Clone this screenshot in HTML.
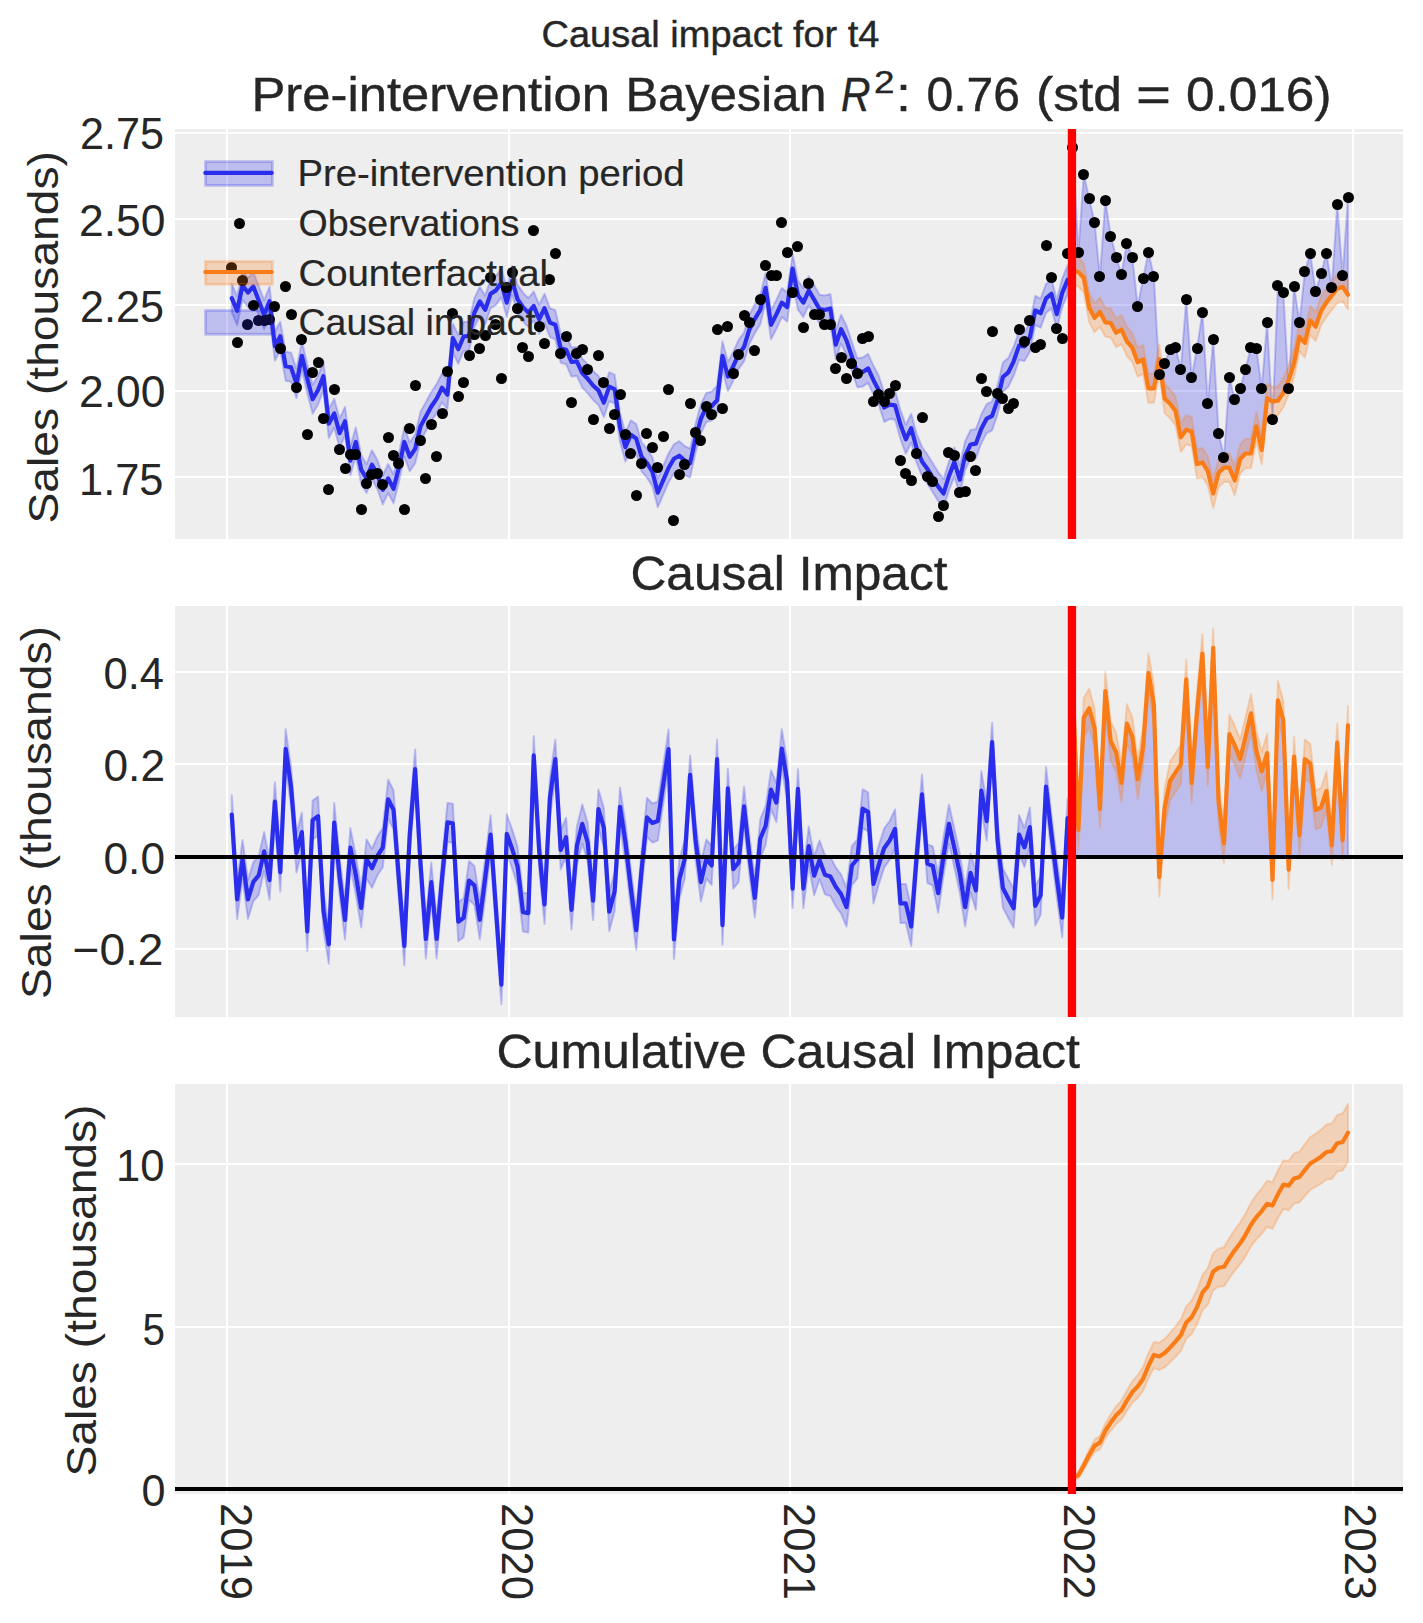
<!DOCTYPE html>
<html><head><meta charset="utf-8"><title>Causal impact for t4</title><style>html,body{margin:0;padding:0;background:#fff}svg{display:block;font-family:"Liberation Sans",sans-serif}</style></head><body>
<svg width="1423" height="1623" viewBox="0 0 1423 1623">
<defs>
<clipPath id="c0"><rect x="175.0" y="129.0" width="1228.0" height="410.0"/></clipPath>
<clipPath id="c1"><rect x="175.0" y="606.0" width="1228.0" height="411.0"/></clipPath>
<clipPath id="c2"><rect x="175.0" y="1084.0" width="1228.0" height="410.0"/></clipPath>
</defs>
<rect width="1423" height="1623" fill="#ffffff"/>
<rect x="175.0" y="129.0" width="1228.0" height="410.0" fill="#eeeeee"/>
<g clip-path="url(#c0)">
<line x1="227.00" y1="129.0" x2="227.00" y2="539.0" stroke="#ffffff" stroke-width="2.0"/>
<line x1="509.00" y1="129.0" x2="509.00" y2="539.0" stroke="#ffffff" stroke-width="2.0"/>
<line x1="790.00" y1="129.0" x2="790.00" y2="539.0" stroke="#ffffff" stroke-width="2.0"/>
<line x1="1072.00" y1="129.0" x2="1072.00" y2="539.0" stroke="#ffffff" stroke-width="2.0"/>
<line x1="1353.00" y1="129.0" x2="1353.00" y2="539.0" stroke="#ffffff" stroke-width="2.0"/>
<line x1="175.0" y1="133.00" x2="1403.0" y2="133.00" stroke="#ffffff" stroke-width="2.0"/>
<line x1="175.0" y1="219.00" x2="1403.0" y2="219.00" stroke="#ffffff" stroke-width="2.0"/>
<line x1="175.0" y1="305.00" x2="1403.0" y2="305.00" stroke="#ffffff" stroke-width="2.0"/>
<line x1="175.0" y1="391.00" x2="1403.0" y2="391.00" stroke="#ffffff" stroke-width="2.0"/>
<line x1="175.0" y1="477.00" x2="1403.0" y2="477.00" stroke="#ffffff" stroke-width="2.0"/>
<polygon points="231.76,283.70 237.15,296.20 242.54,270.90 247.94,278.00 253.33,271.90 258.72,286.00 264.12,300.20 269.51,286.70 274.90,331.60 280.29,321.80 285.69,351.80 291.08,352.80 296.47,369.10 301.86,341.30 307.25,364.00 312.65,384.70 318.04,375.50 323.43,361.60 328.82,409.10 334.22,398.90 339.61,418.60 345.00,406.80 350.39,446.20 355.79,427.50 361.18,455.10 366.57,464.00 371.97,450.20 377.36,460.00 382.75,475.30 388.14,464.00 393.53,474.30 398.93,453.10 404.32,427.50 409.71,442.30 415.11,434.40 420.50,411.70 425.89,401.90 431.28,392.00 436.67,384.10 442.07,373.30 447.46,380.20 452.85,323.60 458.25,334.70 463.64,322.00 469.03,321.40 474.42,298.10 479.81,287.00 485.21,295.40 490.60,279.30 495.99,275.90 501.38,268.20 506.78,288.10 512.17,266.00 517.56,284.80 522.95,292.60 528.35,298.10 533.74,291.50 539.13,304.80 544.52,293.70 549.92,308.10 555.31,310.30 560.70,333.80 566.10,335.20 571.49,347.50 576.88,346.90 582.27,358.60 587.66,364.20 593.06,371.00 598.45,375.90 603.84,388.20 609.24,372.20 614.63,374.70 620.02,412.90 625.41,432.60 630.81,420.30 636.20,424.00 641.59,442.40 646.98,448.60 652.38,457.20 657.77,478.20 663.16,465.90 668.55,453.50 673.94,444.30 679.34,441.20 684.73,446.10 690.12,448.60 695.51,424.00 700.91,404.20 706.30,393.00 711.69,391.60 717.09,385.70 722.48,341.30 727.87,362.00 733.26,351.70 738.65,339.80 744.05,332.40 749.44,314.70 754.83,304.30 760.23,295.50 765.62,273.30 771.01,310.30 776.40,299.90 781.79,288.10 787.19,292.50 792.58,254.10 797.97,280.70 803.37,288.10 808.76,276.20 814.15,285.10 819.54,294.70 824.93,295.50 830.33,294.00 835.72,330.20 841.11,314.70 846.50,325.80 851.90,342.00 857.29,358.30 862.68,357.60 868.08,353.90 873.47,365.70 878.86,376.00 884.25,393.00 889.64,390.10 895.04,390.80 900.43,410.00 905.82,424.80 911.22,413.70 916.61,433.70 922.00,447.00 927.39,454.40 932.78,463.30 938.18,472.10 943.57,479.00 948.96,461.50 954.36,447.60 959.75,465.20 965.14,441.10 970.53,430.00 975.92,429.10 981.32,414.30 986.71,404.10 992.10,401.40 997.50,385.60 1002.89,362.50 1008.28,357.90 1013.67,346.80 1019.07,331.10 1024.46,332.00 1029.85,322.80 1035.24,296.00 1040.63,298.70 1046.03,283.90 1051.42,279.30 1056.81,299.60 1062.20,278.40 1067.60,265.40 1067.60,294.40 1062.20,307.40 1056.81,328.60 1051.42,308.30 1046.03,312.90 1040.63,327.70 1035.24,325.00 1029.85,351.80 1024.46,361.00 1019.07,360.10 1013.67,375.80 1008.28,386.90 1002.89,391.50 997.50,414.60 992.10,430.40 986.71,433.10 981.32,443.30 975.92,458.10 970.53,459.00 965.14,470.10 959.75,494.20 954.36,476.60 948.96,490.50 943.57,508.00 938.18,501.10 932.78,492.30 927.39,483.40 922.00,476.00 916.61,462.70 911.22,442.70 905.82,453.80 900.43,439.00 895.04,419.80 889.64,419.10 884.25,422.00 878.86,405.00 873.47,394.70 868.08,382.90 862.68,386.60 857.29,387.30 851.90,371.00 846.50,354.80 841.11,343.70 835.72,359.20 830.33,323.00 824.93,324.50 819.54,323.70 814.15,314.10 808.76,305.20 803.37,317.10 797.97,309.70 792.58,283.10 787.19,321.50 781.79,317.10 776.40,328.90 771.01,339.30 765.62,302.30 760.23,324.50 754.83,333.30 749.44,343.70 744.05,361.40 738.65,368.80 733.26,380.70 727.87,391.00 722.48,370.30 717.09,414.70 711.69,420.60 706.30,422.00 700.91,433.20 695.51,453.00 690.12,477.60 684.73,475.10 679.34,470.20 673.94,473.30 668.55,482.50 663.16,494.90 657.77,507.20 652.38,486.20 646.98,477.60 641.59,471.40 636.20,453.00 630.81,449.30 625.41,461.60 620.02,441.90 614.63,403.70 609.24,401.20 603.84,417.20 598.45,404.90 593.06,400.00 587.66,393.20 582.27,387.60 576.88,375.90 571.49,376.50 566.10,364.20 560.70,362.80 555.31,339.30 549.92,337.10 544.52,322.70 539.13,333.80 533.74,320.50 528.35,327.10 522.95,321.60 517.56,313.80 512.17,295.00 506.78,317.10 501.38,297.20 495.99,304.90 490.60,308.30 485.21,324.40 479.81,316.00 474.42,327.10 469.03,350.40 463.64,351.00 458.25,363.70 452.85,352.60 447.46,409.20 442.07,402.30 436.67,413.10 431.28,421.00 425.89,430.90 420.50,440.70 415.11,463.40 409.71,471.30 404.32,456.50 398.93,482.10 393.53,503.30 388.14,493.00 382.75,504.30 377.36,489.00 371.97,479.20 366.57,493.00 361.18,484.10 355.79,456.50 350.39,475.20 345.00,435.80 339.61,447.60 334.22,427.90 328.82,438.10 323.43,390.60 318.04,404.50 312.65,413.70 307.25,393.00 301.86,370.30 296.47,398.10 291.08,381.80 285.69,380.80 280.29,350.80 274.90,360.60 269.51,315.70 264.12,329.20 258.72,315.00 253.33,300.90 247.94,307.00 242.54,299.90 237.15,325.20 231.76,312.70" fill="#2a2eec" fill-opacity="0.25" stroke="#2a2eec" stroke-opacity="0.25" stroke-width="2" stroke-linejoin="round" />
<polyline points="231.76,298.20 237.15,310.70 242.54,285.40 247.94,292.50 253.33,286.40 258.72,300.50 264.12,314.70 269.51,301.20 274.90,346.10 280.29,336.30 285.69,366.30 291.08,367.30 296.47,383.60 301.86,355.80 307.25,378.50 312.65,399.20 318.04,390.00 323.43,376.10 328.82,423.60 334.22,413.40 339.61,433.10 345.00,421.30 350.39,460.70 355.79,442.00 361.18,469.60 366.57,478.50 371.97,464.70 377.36,474.50 382.75,489.80 388.14,478.50 393.53,488.80 398.93,467.60 404.32,442.00 409.71,456.80 415.11,448.90 420.50,426.20 425.89,416.40 431.28,406.50 436.67,398.60 442.07,387.80 447.46,394.70 452.85,338.10 458.25,349.20 463.64,336.50 469.03,335.90 474.42,312.60 479.81,301.50 485.21,309.90 490.60,293.80 495.99,290.40 501.38,282.70 506.78,302.60 512.17,280.50 517.56,299.30 522.95,307.10 528.35,312.60 533.74,306.00 539.13,319.30 544.52,308.20 549.92,322.60 555.31,324.80 560.70,348.30 566.10,349.70 571.49,362.00 576.88,361.40 582.27,373.10 587.66,378.70 593.06,385.50 598.45,390.40 603.84,402.70 609.24,386.70 614.63,389.20 620.02,427.40 625.41,447.10 630.81,434.80 636.20,438.50 641.59,456.90 646.98,463.10 652.38,471.70 657.77,492.70 663.16,480.40 668.55,468.00 673.94,458.80 679.34,455.70 684.73,460.60 690.12,463.10 695.51,438.50 700.91,418.70 706.30,407.50 711.69,406.10 717.09,400.20 722.48,355.80 727.87,376.50 733.26,366.20 738.65,354.30 744.05,346.90 749.44,329.20 754.83,318.80 760.23,310.00 765.62,287.80 771.01,324.80 776.40,314.40 781.79,302.60 787.19,307.00 792.58,268.60 797.97,295.20 803.37,302.60 808.76,290.70 814.15,299.60 819.54,309.20 824.93,310.00 830.33,308.50 835.72,344.70 841.11,329.20 846.50,340.30 851.90,356.50 857.29,372.80 862.68,372.10 868.08,368.40 873.47,380.20 878.86,390.50 884.25,407.50 889.64,404.60 895.04,405.30 900.43,424.50 905.82,439.30 911.22,428.20 916.61,448.20 922.00,461.50 927.39,468.90 932.78,477.80 938.18,486.60 943.57,493.50 948.96,476.00 954.36,462.10 959.75,479.70 965.14,455.60 970.53,444.50 975.92,443.60 981.32,428.80 986.71,418.60 992.10,415.90 997.50,400.10 1002.89,377.00 1008.28,372.40 1013.67,361.30 1019.07,345.60 1024.46,346.50 1029.85,337.30 1035.24,310.50 1040.63,313.20 1046.03,298.40 1051.42,293.80 1056.81,314.10 1062.20,292.90 1067.60,279.90" fill="none" stroke="#2a2eec" stroke-width="4.2" stroke-linejoin="round" stroke-linecap="round"/>
<polygon points="1072.99,147.50 1078.38,252.50 1083.78,174.40 1089.17,198.50 1094.56,222.50 1099.95,276.40 1105.35,200.30 1110.74,236.20 1116.13,257.20 1121.52,274.20 1126.91,243.20 1132.31,257.20 1137.70,306.30 1143.09,278.30 1148.49,252.40 1153.88,276.30 1159.27,374.50 1164.66,363.40 1170.05,349.20 1175.45,347.20 1180.84,369.00 1186.23,299.30 1191.62,377.40 1197.02,348.30 1202.41,312.30 1207.80,403.30 1213.20,339.50 1218.59,433.10 1223.98,457.20 1229.37,377.40 1234.76,399.50 1240.16,388.30 1245.55,369.30 1250.94,347.00 1256.34,348.20 1261.73,388.30 1267.12,322.20 1272.51,419.30 1277.90,285.20 1283.30,292.40 1288.69,388.30 1294.08,286.40 1299.47,322.20 1304.87,271.40 1310.26,253.30 1315.65,291.60 1321.05,273.40 1326.44,253.30 1331.83,287.20 1337.22,204.50 1342.62,275.20 1348.01,197.20 1348.01,294.70 1342.62,286.90 1337.22,288.60 1331.83,295.50 1326.44,302.40 1321.05,311.00 1315.65,326.60 1310.26,320.50 1304.87,342.90 1299.47,336.90 1294.08,362.80 1288.69,380.00 1283.30,392.90 1277.90,400.70 1272.51,401.60 1267.12,398.10 1261.73,450.00 1256.34,426.40 1250.94,453.50 1245.55,453.50 1240.16,459.00 1234.76,480.50 1229.37,467.60 1223.98,467.60 1218.59,472.80 1213.20,493.40 1207.80,471.00 1202.41,462.40 1197.02,464.10 1191.62,431.40 1186.23,429.70 1180.84,437.40 1175.45,410.70 1170.05,403.80 1164.66,398.60 1159.27,359.00 1153.88,388.30 1148.49,388.30 1143.09,359.50 1137.70,362.20 1132.31,347.50 1126.91,341.50 1121.52,329.70 1116.13,332.70 1110.74,323.00 1105.35,322.30 1099.95,312.00 1094.56,317.90 1089.17,307.50 1083.78,277.90 1078.38,272.00 1072.99,270.39" fill="#2a2eec" fill-opacity="0.25" stroke="#2a2eec" stroke-opacity="0.25" stroke-width="2" stroke-linejoin="round" />
<polygon points="1072.99,255.89 1078.38,257.50 1083.78,263.40 1089.17,293.00 1094.56,303.40 1099.95,297.50 1105.35,307.80 1110.74,308.50 1116.13,318.20 1121.52,315.20 1126.91,327.00 1132.31,333.00 1137.70,347.70 1143.09,345.00 1148.49,373.80 1153.88,373.80 1159.27,344.50 1164.66,384.10 1170.05,389.30 1175.45,396.20 1180.84,422.90 1186.23,415.20 1191.62,416.90 1197.02,449.60 1202.41,447.90 1207.80,456.50 1213.20,478.90 1218.59,458.30 1223.98,453.10 1229.37,453.10 1234.76,466.00 1240.16,444.50 1245.55,439.00 1250.94,439.00 1256.34,411.90 1261.73,435.50 1267.12,383.60 1272.51,387.10 1277.90,386.20 1283.30,378.40 1288.69,365.50 1294.08,348.30 1299.47,322.40 1304.87,328.40 1310.26,306.00 1315.65,312.10 1321.05,296.50 1326.44,287.90 1331.83,281.00 1337.22,274.10 1342.62,272.40 1348.01,280.20 1348.01,309.20 1342.62,301.40 1337.22,303.10 1331.83,310.00 1326.44,316.90 1321.05,325.50 1315.65,341.10 1310.26,335.00 1304.87,357.40 1299.47,351.40 1294.08,377.30 1288.69,394.50 1283.30,407.40 1277.90,415.20 1272.51,416.10 1267.12,412.60 1261.73,464.50 1256.34,440.90 1250.94,468.00 1245.55,468.00 1240.16,473.50 1234.76,495.00 1229.37,482.10 1223.98,482.10 1218.59,487.30 1213.20,507.90 1207.80,485.50 1202.41,476.90 1197.02,478.60 1191.62,445.90 1186.23,444.20 1180.84,451.90 1175.45,425.20 1170.05,418.30 1164.66,413.10 1159.27,373.50 1153.88,402.80 1148.49,402.80 1143.09,374.00 1137.70,376.70 1132.31,362.00 1126.91,356.00 1121.52,344.20 1116.13,347.20 1110.74,337.50 1105.35,336.80 1099.95,326.50 1094.56,332.40 1089.17,322.00 1083.78,292.40 1078.38,286.50 1072.99,284.89" fill="#fa7c17" fill-opacity="0.25" stroke="#fa7c17" stroke-opacity="0.25" stroke-width="2" stroke-linejoin="round" />
<polyline points="1072.99,270.39 1078.38,272.00 1083.78,277.90 1089.17,307.50 1094.56,317.90 1099.95,312.00 1105.35,322.30 1110.74,323.00 1116.13,332.70 1121.52,329.70 1126.91,341.50 1132.31,347.50 1137.70,362.20 1143.09,359.50 1148.49,388.30 1153.88,388.30 1159.27,359.00 1164.66,398.60 1170.05,403.80 1175.45,410.70 1180.84,437.40 1186.23,429.70 1191.62,431.40 1197.02,464.10 1202.41,462.40 1207.80,471.00 1213.20,493.40 1218.59,472.80 1223.98,467.60 1229.37,467.60 1234.76,480.50 1240.16,459.00 1245.55,453.50 1250.94,453.50 1256.34,426.40 1261.73,450.00 1267.12,398.10 1272.51,401.60 1277.90,400.70 1283.30,392.90 1288.69,380.00 1294.08,362.80 1299.47,336.90 1304.87,342.90 1310.26,320.50 1315.65,326.60 1321.05,311.00 1326.44,302.40 1331.83,295.50 1337.22,288.60 1342.62,286.90 1348.01,294.70" fill="none" stroke="#fa7c17" stroke-width="4.2" stroke-linejoin="round" stroke-linecap="round"/>
<g fill="#000000">
<circle cx="231.5" cy="267.5" r="5.5"/>
<circle cx="237.5" cy="342.5" r="5.5"/>
<circle cx="242.5" cy="280.5" r="5.5"/>
<circle cx="247.5" cy="324.5" r="5.5"/>
<circle cx="253.5" cy="305.5" r="5.5"/>
<circle cx="258.5" cy="320.5" r="5.5"/>
<circle cx="264.5" cy="320.5" r="5.5"/>
<circle cx="269.5" cy="319.5" r="5.5"/>
<circle cx="274.5" cy="306.5" r="5.5"/>
<circle cx="280.5" cy="348.5" r="5.5"/>
<circle cx="285.5" cy="286.5" r="5.5"/>
<circle cx="291.5" cy="314.5" r="5.5"/>
<circle cx="296.5" cy="387.5" r="5.5"/>
<circle cx="301.5" cy="339.5" r="5.5"/>
<circle cx="307.5" cy="434.5" r="5.5"/>
<circle cx="312.5" cy="372.5" r="5.5"/>
<circle cx="318.5" cy="362.5" r="5.5"/>
<circle cx="323.5" cy="418.5" r="5.5"/>
<circle cx="328.5" cy="489.5" r="5.5"/>
<circle cx="334.5" cy="389.5" r="5.5"/>
<circle cx="339.5" cy="449.5" r="5.5"/>
<circle cx="345.5" cy="468.5" r="5.5"/>
<circle cx="350.5" cy="454.5" r="5.5"/>
<circle cx="355.5" cy="454.5" r="5.5"/>
<circle cx="361.5" cy="509.5" r="5.5"/>
<circle cx="366.5" cy="483.5" r="5.5"/>
<circle cx="371.5" cy="474.5" r="5.5"/>
<circle cx="377.5" cy="473.5" r="5.5"/>
<circle cx="382.5" cy="484.5" r="5.5"/>
<circle cx="388.5" cy="437.5" r="5.5"/>
<circle cx="393.5" cy="455.5" r="5.5"/>
<circle cx="398.5" cy="463.5" r="5.5"/>
<circle cx="404.5" cy="509.5" r="5.5"/>
<circle cx="409.5" cy="428.5" r="5.5"/>
<circle cx="415.5" cy="385.5" r="5.5"/>
<circle cx="420.5" cy="440.5" r="5.5"/>
<circle cx="425.5" cy="478.5" r="5.5"/>
<circle cx="431.5" cy="424.5" r="5.5"/>
<circle cx="436.5" cy="456.5" r="5.5"/>
<circle cx="442.5" cy="413.5" r="5.5"/>
<circle cx="447.5" cy="371.5" r="5.5"/>
<circle cx="452.5" cy="313.5" r="5.5"/>
<circle cx="458.5" cy="396.5" r="5.5"/>
<circle cx="463.5" cy="382.5" r="5.5"/>
<circle cx="469.5" cy="355.5" r="5.5"/>
<circle cx="474.5" cy="334.5" r="5.5"/>
<circle cx="479.5" cy="348.5" r="5.5"/>
<circle cx="485.5" cy="335.5" r="5.5"/>
<circle cx="490.5" cy="277.5" r="5.5"/>
<circle cx="495.5" cy="324.5" r="5.5"/>
<circle cx="501.5" cy="378.5" r="5.5"/>
<circle cx="506.5" cy="287.5" r="5.5"/>
<circle cx="512.5" cy="272.5" r="5.5"/>
<circle cx="517.5" cy="308.5" r="5.5"/>
<circle cx="522.5" cy="347.5" r="5.5"/>
<circle cx="528.5" cy="356.5" r="5.5"/>
<circle cx="533.5" cy="230.5" r="5.5"/>
<circle cx="539.5" cy="326.5" r="5.5"/>
<circle cx="544.5" cy="343.5" r="5.5"/>
<circle cx="549.5" cy="279.5" r="5.5"/>
<circle cx="555.5" cy="253.5" r="5.5"/>
<circle cx="560.5" cy="353.5" r="5.5"/>
<circle cx="566.5" cy="336.5" r="5.5"/>
<circle cx="571.5" cy="402.5" r="5.5"/>
<circle cx="576.5" cy="353.5" r="5.5"/>
<circle cx="582.5" cy="349.5" r="5.5"/>
<circle cx="587.5" cy="369.5" r="5.5"/>
<circle cx="593.5" cy="419.5" r="5.5"/>
<circle cx="598.5" cy="355.5" r="5.5"/>
<circle cx="603.5" cy="382.5" r="5.5"/>
<circle cx="609.5" cy="428.5" r="5.5"/>
<circle cx="614.5" cy="414.5" r="5.5"/>
<circle cx="620.5" cy="394.5" r="5.5"/>
<circle cx="625.5" cy="434.5" r="5.5"/>
<circle cx="630.5" cy="453.5" r="5.5"/>
<circle cx="636.5" cy="495.5" r="5.5"/>
<circle cx="641.5" cy="463.5" r="5.5"/>
<circle cx="646.5" cy="433.5" r="5.5"/>
<circle cx="652.5" cy="447.5" r="5.5"/>
<circle cx="657.5" cy="467.5" r="5.5"/>
<circle cx="663.5" cy="436.5" r="5.5"/>
<circle cx="668.5" cy="389.5" r="5.5"/>
<circle cx="673.5" cy="520.5" r="5.5"/>
<circle cx="679.5" cy="474.5" r="5.5"/>
<circle cx="684.5" cy="464.5" r="5.5"/>
<circle cx="690.5" cy="403.5" r="5.5"/>
<circle cx="695.5" cy="432.5" r="5.5"/>
<circle cx="700.5" cy="440.5" r="5.5"/>
<circle cx="706.5" cy="406.5" r="5.5"/>
<circle cx="711.5" cy="414.5" r="5.5"/>
<circle cx="717.5" cy="329.5" r="5.5"/>
<circle cx="722.5" cy="408.5" r="5.5"/>
<circle cx="727.5" cy="326.5" r="5.5"/>
<circle cx="733.5" cy="373.5" r="5.5"/>
<circle cx="738.5" cy="354.5" r="5.5"/>
<circle cx="744.5" cy="315.5" r="5.5"/>
<circle cx="749.5" cy="322.5" r="5.5"/>
<circle cx="754.5" cy="350.5" r="5.5"/>
<circle cx="760.5" cy="299.5" r="5.5"/>
<circle cx="765.5" cy="265.5" r="5.5"/>
<circle cx="771.5" cy="275.5" r="5.5"/>
<circle cx="776.5" cy="275.5" r="5.5"/>
<circle cx="781.5" cy="222.5" r="5.5"/>
<circle cx="787.5" cy="252.5" r="5.5"/>
<circle cx="792.5" cy="292.5" r="5.5"/>
<circle cx="797.5" cy="246.5" r="5.5"/>
<circle cx="803.5" cy="327.5" r="5.5"/>
<circle cx="808.5" cy="283.5" r="5.5"/>
<circle cx="814.5" cy="314.5" r="5.5"/>
<circle cx="819.5" cy="314.5" r="5.5"/>
<circle cx="824.5" cy="324.5" r="5.5"/>
<circle cx="830.5" cy="324.5" r="5.5"/>
<circle cx="835.5" cy="368.5" r="5.5"/>
<circle cx="841.5" cy="357.5" r="5.5"/>
<circle cx="846.5" cy="378.5" r="5.5"/>
<circle cx="851.5" cy="363.5" r="5.5"/>
<circle cx="857.5" cy="373.5" r="5.5"/>
<circle cx="862.5" cy="338.5" r="5.5"/>
<circle cx="868.5" cy="336.5" r="5.5"/>
<circle cx="873.5" cy="401.5" r="5.5"/>
<circle cx="878.5" cy="394.5" r="5.5"/>
<circle cx="884.5" cy="401.5" r="5.5"/>
<circle cx="889.5" cy="393.5" r="5.5"/>
<circle cx="895.5" cy="385.5" r="5.5"/>
<circle cx="900.5" cy="460.5" r="5.5"/>
<circle cx="905.5" cy="473.5" r="5.5"/>
<circle cx="911.5" cy="480.5" r="5.5"/>
<circle cx="916.5" cy="453.5" r="5.5"/>
<circle cx="922.5" cy="417.5" r="5.5"/>
<circle cx="927.5" cy="476.5" r="5.5"/>
<circle cx="932.5" cy="481.5" r="5.5"/>
<circle cx="938.5" cy="516.5" r="5.5"/>
<circle cx="943.5" cy="505.5" r="5.5"/>
<circle cx="948.5" cy="452.5" r="5.5"/>
<circle cx="954.5" cy="455.5" r="5.5"/>
<circle cx="959.5" cy="492.5" r="5.5"/>
<circle cx="965.5" cy="491.5" r="5.5"/>
<circle cx="970.5" cy="456.5" r="5.5"/>
<circle cx="975.5" cy="470.5" r="5.5"/>
<circle cx="981.5" cy="378.5" r="5.5"/>
<circle cx="986.5" cy="391.5" r="5.5"/>
<circle cx="992.5" cy="331.5" r="5.5"/>
<circle cx="997.5" cy="393.5" r="5.5"/>
<circle cx="1002.5" cy="398.5" r="5.5"/>
<circle cx="1008.5" cy="408.5" r="5.5"/>
<circle cx="1013.5" cy="403.5" r="5.5"/>
<circle cx="1019.5" cy="329.5" r="5.5"/>
<circle cx="1024.5" cy="341.5" r="5.5"/>
<circle cx="1029.5" cy="320.5" r="5.5"/>
<circle cx="1035.5" cy="347.5" r="5.5"/>
<circle cx="1040.5" cy="344.5" r="5.5"/>
<circle cx="1046.5" cy="245.5" r="5.5"/>
<circle cx="1051.5" cy="277.5" r="5.5"/>
<circle cx="1056.5" cy="328.5" r="5.5"/>
<circle cx="1062.5" cy="338.5" r="5.5"/>
<circle cx="1067.5" cy="253.5" r="5.5"/>
<circle cx="1072.5" cy="147.5" r="5.5"/>
<circle cx="1078.5" cy="252.5" r="5.5"/>
<circle cx="1083.5" cy="174.5" r="5.5"/>
<circle cx="1089.5" cy="198.5" r="5.5"/>
<circle cx="1094.5" cy="222.5" r="5.5"/>
<circle cx="1099.5" cy="276.5" r="5.5"/>
<circle cx="1105.5" cy="200.5" r="5.5"/>
<circle cx="1110.5" cy="236.5" r="5.5"/>
<circle cx="1116.5" cy="257.5" r="5.5"/>
<circle cx="1121.5" cy="274.5" r="5.5"/>
<circle cx="1126.5" cy="243.5" r="5.5"/>
<circle cx="1132.5" cy="257.5" r="5.5"/>
<circle cx="1137.5" cy="306.5" r="5.5"/>
<circle cx="1143.5" cy="278.5" r="5.5"/>
<circle cx="1148.5" cy="252.5" r="5.5"/>
<circle cx="1153.5" cy="276.5" r="5.5"/>
<circle cx="1159.5" cy="374.5" r="5.5"/>
<circle cx="1164.5" cy="363.5" r="5.5"/>
<circle cx="1170.5" cy="349.5" r="5.5"/>
<circle cx="1175.5" cy="347.5" r="5.5"/>
<circle cx="1180.5" cy="369.5" r="5.5"/>
<circle cx="1186.5" cy="299.5" r="5.5"/>
<circle cx="1191.5" cy="377.5" r="5.5"/>
<circle cx="1197.5" cy="348.5" r="5.5"/>
<circle cx="1202.5" cy="312.5" r="5.5"/>
<circle cx="1207.5" cy="403.5" r="5.5"/>
<circle cx="1213.5" cy="339.5" r="5.5"/>
<circle cx="1218.5" cy="433.5" r="5.5"/>
<circle cx="1223.5" cy="457.5" r="5.5"/>
<circle cx="1229.5" cy="377.5" r="5.5"/>
<circle cx="1234.5" cy="399.5" r="5.5"/>
<circle cx="1240.5" cy="388.5" r="5.5"/>
<circle cx="1245.5" cy="369.5" r="5.5"/>
<circle cx="1250.5" cy="347.5" r="5.5"/>
<circle cx="1256.5" cy="348.5" r="5.5"/>
<circle cx="1261.5" cy="388.5" r="5.5"/>
<circle cx="1267.5" cy="322.5" r="5.5"/>
<circle cx="1272.5" cy="419.5" r="5.5"/>
<circle cx="1277.5" cy="285.5" r="5.5"/>
<circle cx="1283.5" cy="292.5" r="5.5"/>
<circle cx="1288.5" cy="388.5" r="5.5"/>
<circle cx="1294.5" cy="286.5" r="5.5"/>
<circle cx="1299.5" cy="322.5" r="5.5"/>
<circle cx="1304.5" cy="271.5" r="5.5"/>
<circle cx="1310.5" cy="253.5" r="5.5"/>
<circle cx="1315.5" cy="291.5" r="5.5"/>
<circle cx="1321.5" cy="273.5" r="5.5"/>
<circle cx="1326.5" cy="253.5" r="5.5"/>
<circle cx="1331.5" cy="287.5" r="5.5"/>
<circle cx="1337.5" cy="204.5" r="5.5"/>
<circle cx="1342.5" cy="275.5" r="5.5"/>
<circle cx="1348.5" cy="197.5" r="5.5"/>
</g>
<line x1="1071.95" y1="129.0" x2="1071.95" y2="539.0" stroke="#ff0000" stroke-width="8.3"/>
</g>
<rect x="175.0" y="606.0" width="1228.0" height="411.0" fill="#eeeeee"/>
<g clip-path="url(#c1)">
<line x1="227.00" y1="606.0" x2="227.00" y2="1017.0" stroke="#ffffff" stroke-width="2.0"/>
<line x1="509.00" y1="606.0" x2="509.00" y2="1017.0" stroke="#ffffff" stroke-width="2.0"/>
<line x1="790.00" y1="606.0" x2="790.00" y2="1017.0" stroke="#ffffff" stroke-width="2.0"/>
<line x1="1072.00" y1="606.0" x2="1072.00" y2="1017.0" stroke="#ffffff" stroke-width="2.0"/>
<line x1="1353.00" y1="606.0" x2="1353.00" y2="1017.0" stroke="#ffffff" stroke-width="2.0"/>
<line x1="175.0" y1="672.00" x2="1403.0" y2="672.00" stroke="#ffffff" stroke-width="2.0"/>
<line x1="175.0" y1="764.00" x2="1403.0" y2="764.00" stroke="#ffffff" stroke-width="2.0"/>
<line x1="175.0" y1="857.00" x2="1403.0" y2="857.00" stroke="#ffffff" stroke-width="2.0"/>
<line x1="175.0" y1="949.00" x2="1403.0" y2="949.00" stroke="#ffffff" stroke-width="2.0"/>
<polygon points="231.76,795.00 237.15,879.90 242.54,839.90 247.94,879.90 253.33,862.30 258.72,855.90 264.12,831.90 269.51,860.70 274.90,782.20 280.29,852.70 285.69,729.30 291.08,767.50 296.47,833.50 301.86,812.60 307.25,912.00 312.65,800.60 318.04,796.60 323.43,891.10 328.82,924.80 334.22,803.00 339.61,857.50 345.00,900.50 350.39,828.10 355.79,855.50 361.18,888.40 366.57,839.50 371.97,848.80 377.36,836.50 382.75,828.10 388.14,779.80 393.53,790.20 398.93,860.50 404.32,926.40 409.71,815.50 415.11,749.60 420.50,844.50 425.89,919.50 431.28,862.60 436.67,919.50 442.07,858.50 447.46,802.90 452.85,803.80 458.25,902.20 463.64,898.30 469.03,861.10 474.42,865.90 479.81,900.30 485.21,858.20 490.60,815.20 495.99,890.50 501.38,965.20 506.78,814.30 512.17,829.50 517.56,846.80 522.95,892.60 528.35,893.60 533.74,735.90 539.13,830.50 544.52,885.00 549.92,778.00 555.31,739.70 560.70,830.50 566.10,817.70 571.49,890.40 576.88,826.60 582.27,804.40 587.66,822.90 593.06,881.10 598.45,789.60 603.84,808.10 609.24,892.20 614.63,871.90 620.02,787.40 625.41,822.50 630.81,868.50 636.20,910.70 641.59,850.50 646.98,797.90 652.38,803.50 657.77,801.60 663.16,765.50 668.55,729.50 673.94,920.00 679.34,859.90 684.73,839.50 690.12,755.40 695.51,820.50 700.91,862.60 706.30,839.50 711.69,846.00 717.09,739.70 722.48,905.70 727.87,768.90 733.26,849.70 738.65,842.90 744.05,786.80 749.44,836.50 754.83,878.40 760.23,819.20 765.62,806.20 771.01,770.20 776.40,783.10 781.79,729.20 787.19,761.90 792.58,869.10 797.97,769.30 803.37,869.10 808.76,826.60 814.15,856.20 819.54,840.50 824.93,855.20 830.33,857.10 835.72,867.30 841.11,874.70 846.50,887.60 851.90,846.00 857.29,839.50 862.68,789.20 868.08,792.40 873.47,864.50 878.86,845.10 884.25,828.40 889.64,821.00 895.04,809.50 900.43,883.90 905.82,883.90 911.22,907.00 916.61,837.50 922.00,774.80 927.39,844.10 932.78,846.50 938.18,873.70 943.57,836.50 948.96,804.40 954.36,828.50 959.75,853.50 965.14,887.60 970.53,853.40 975.92,871.00 981.32,771.10 986.71,801.60 992.10,722.70 997.50,820.50 1002.89,868.50 1008.28,879.00 1013.67,888.70 1019.07,815.10 1024.46,827.90 1029.85,807.60 1035.24,886.40 1040.63,875.90 1046.03,767.10 1051.42,814.50 1056.81,858.50 1062.20,898.10 1067.60,798.70 1067.60,837.70 1062.20,937.10 1056.81,897.50 1051.42,853.50 1046.03,806.10 1040.63,914.90 1035.24,925.40 1029.85,846.60 1024.46,866.90 1019.07,854.10 1013.67,927.70 1008.28,918.00 1002.89,907.50 997.50,859.50 992.10,761.70 986.71,840.60 981.32,810.10 975.92,910.00 970.53,892.40 965.14,926.60 959.75,892.50 954.36,867.50 948.96,843.40 943.57,875.50 938.18,912.70 932.78,885.50 927.39,883.10 922.00,813.80 916.61,876.50 911.22,946.00 905.82,922.90 900.43,922.90 895.04,848.50 889.64,860.00 884.25,867.40 878.86,884.10 873.47,903.50 868.08,831.40 862.68,828.20 857.29,878.50 851.90,885.00 846.50,926.60 841.11,913.70 835.72,906.30 830.33,896.10 824.93,894.20 819.54,879.50 814.15,895.20 808.76,865.60 803.37,908.10 797.97,808.30 792.58,908.10 787.19,800.90 781.79,768.20 776.40,822.10 771.01,809.20 765.62,845.20 760.23,858.20 754.83,917.40 749.44,875.50 744.05,825.80 738.65,881.90 733.26,888.70 727.87,807.90 722.48,944.70 717.09,778.70 711.69,885.00 706.30,878.50 700.91,901.60 695.51,859.50 690.12,794.40 684.73,878.50 679.34,898.90 673.94,959.00 668.55,768.50 663.16,804.50 657.77,840.60 652.38,842.50 646.98,836.90 641.59,889.50 636.20,949.70 630.81,907.50 625.41,861.50 620.02,826.40 614.63,910.90 609.24,931.20 603.84,847.10 598.45,828.60 593.06,920.10 587.66,861.90 582.27,843.40 576.88,865.60 571.49,929.40 566.10,856.70 560.70,869.50 555.31,778.70 549.92,817.00 544.52,924.00 539.13,869.50 533.74,774.90 528.35,932.60 522.95,931.60 517.56,885.80 512.17,868.50 506.78,853.30 501.38,1004.20 495.99,929.50 490.60,854.20 485.21,897.20 479.81,939.30 474.42,904.90 469.03,900.10 463.64,937.30 458.25,941.20 452.85,842.80 447.46,841.90 442.07,897.50 436.67,958.50 431.28,901.60 425.89,958.50 420.50,883.50 415.11,788.60 409.71,854.50 404.32,965.40 398.93,899.50 393.53,829.20 388.14,818.80 382.75,867.10 377.36,875.50 371.97,887.80 366.57,878.50 361.18,927.40 355.79,894.50 350.39,867.10 345.00,939.50 339.61,896.50 334.22,842.00 328.82,963.80 323.43,930.10 318.04,835.60 312.65,839.60 307.25,951.00 301.86,851.60 296.47,872.50 291.08,806.50 285.69,768.30 280.29,891.70 274.90,821.20 269.51,899.70 264.12,870.90 258.72,894.90 253.33,901.30 247.94,918.90 242.54,878.90 237.15,918.90 231.76,834.00" fill="#2a2eec" fill-opacity="0.25" stroke="#2a2eec" stroke-opacity="0.25" stroke-width="2" stroke-linejoin="round" />
<polyline points="231.76,814.50 237.15,899.40 242.54,859.40 247.94,899.40 253.33,881.80 258.72,875.40 264.12,851.40 269.51,880.20 274.90,801.70 280.29,872.20 285.69,748.80 291.08,787.00 296.47,853.00 301.86,832.10 307.25,931.50 312.65,820.10 318.04,816.10 323.43,910.60 328.82,944.30 334.22,822.50 339.61,877.00 345.00,920.00 350.39,847.60 355.79,875.00 361.18,907.90 366.57,859.00 371.97,868.30 377.36,856.00 382.75,847.60 388.14,799.30 393.53,809.70 398.93,880.00 404.32,945.90 409.71,835.00 415.11,769.10 420.50,864.00 425.89,939.00 431.28,882.10 436.67,939.00 442.07,878.00 447.46,822.40 452.85,823.30 458.25,921.70 463.64,917.80 469.03,880.60 474.42,885.40 479.81,919.80 485.21,877.70 490.60,834.70 495.99,910.00 501.38,984.70 506.78,833.80 512.17,849.00 517.56,866.30 522.95,912.10 528.35,913.10 533.74,755.40 539.13,850.00 544.52,904.50 549.92,797.50 555.31,759.20 560.70,850.00 566.10,837.20 571.49,909.90 576.88,846.10 582.27,823.90 587.66,842.40 593.06,900.60 598.45,809.10 603.84,827.60 609.24,911.70 614.63,891.40 620.02,806.90 625.41,842.00 630.81,888.00 636.20,930.20 641.59,870.00 646.98,817.40 652.38,823.00 657.77,821.10 663.16,785.00 668.55,749.00 673.94,939.50 679.34,879.40 684.73,859.00 690.12,774.90 695.51,840.00 700.91,882.10 706.30,859.00 711.69,865.50 717.09,759.20 722.48,925.20 727.87,788.40 733.26,869.20 738.65,862.40 744.05,806.30 749.44,856.00 754.83,897.90 760.23,838.70 765.62,825.70 771.01,789.70 776.40,802.60 781.79,748.70 787.19,781.40 792.58,888.60 797.97,788.80 803.37,888.60 808.76,846.10 814.15,875.70 819.54,860.00 824.93,874.70 830.33,876.60 835.72,886.80 841.11,894.20 846.50,907.10 851.90,865.50 857.29,859.00 862.68,808.70 868.08,811.90 873.47,884.00 878.86,864.60 884.25,847.90 889.64,840.50 895.04,829.00 900.43,903.40 905.82,903.40 911.22,926.50 916.61,857.00 922.00,794.30 927.39,863.60 932.78,866.00 938.18,893.20 943.57,856.00 948.96,823.90 954.36,848.00 959.75,873.00 965.14,907.10 970.53,872.90 975.92,890.50 981.32,790.60 986.71,821.10 992.10,742.20 997.50,840.00 1002.89,888.00 1008.28,898.50 1013.67,908.20 1019.07,834.60 1024.46,847.40 1029.85,827.10 1035.24,905.90 1040.63,895.40 1046.03,786.60 1051.42,834.00 1056.81,878.00 1062.20,917.60 1067.60,818.20" fill="none" stroke="#2a2eec" stroke-width="4.2" stroke-linejoin="round" stroke-linecap="round"/>
<polygon points="1072.99,692.00 1078.38,830.00 1083.78,717.60 1089.17,708.20 1094.56,728.10 1099.95,808.80 1105.35,691.00 1110.74,741.20 1116.13,752.30 1121.52,782.90 1126.91,723.70 1132.31,736.70 1137.70,779.20 1143.09,746.80 1148.49,672.90 1153.88,704.30 1159.27,877.20 1164.66,807.90 1170.05,781.00 1175.45,772.70 1180.84,764.40 1186.23,679.30 1191.62,782.90 1197.02,712.00 1202.41,653.50 1207.80,766.80 1213.20,647.90 1218.59,802.30 1223.98,843.30 1229.37,734.10 1234.76,745.30 1240.16,759.10 1245.55,736.70 1250.94,713.40 1256.34,750.50 1261.73,771.20 1267.12,753.10 1272.51,880.00 1277.90,700.40 1283.30,720.30 1288.69,869.60 1294.08,756.50 1299.47,835.10 1304.87,759.10 1310.26,763.40 1315.65,810.00 1321.05,807.40 1326.44,791.00 1331.83,845.40 1337.22,742.70 1342.62,840.20 1348.01,725.40 1348.01,856.60 1342.62,856.60 1337.22,856.60 1331.83,856.60 1326.44,856.60 1321.05,856.60 1315.65,856.60 1310.26,856.60 1304.87,856.60 1299.47,856.60 1294.08,856.60 1288.69,856.60 1283.30,856.60 1277.90,856.60 1272.51,856.60 1267.12,856.60 1261.73,856.60 1256.34,856.60 1250.94,856.60 1245.55,856.60 1240.16,856.60 1234.76,856.60 1229.37,856.60 1223.98,856.60 1218.59,856.60 1213.20,856.60 1207.80,856.60 1202.41,856.60 1197.02,856.60 1191.62,856.60 1186.23,856.60 1180.84,856.60 1175.45,856.60 1170.05,856.60 1164.66,856.60 1159.27,856.60 1153.88,856.60 1148.49,856.60 1143.09,856.60 1137.70,856.60 1132.31,856.60 1126.91,856.60 1121.52,856.60 1116.13,856.60 1110.74,856.60 1105.35,856.60 1099.95,856.60 1094.56,856.60 1089.17,856.60 1083.78,856.60 1078.38,856.60 1072.99,856.60" fill="#2a2eec" fill-opacity="0.25" stroke="#2a2eec" stroke-opacity="0.25" stroke-width="2" stroke-linejoin="round" />
<polygon points="1072.99,672.50 1078.38,810.50 1083.78,698.10 1089.17,688.70 1094.56,708.60 1099.95,789.30 1105.35,671.50 1110.74,721.70 1116.13,732.80 1121.52,763.40 1126.91,704.20 1132.31,717.20 1137.70,759.70 1143.09,727.30 1148.49,653.40 1153.88,684.80 1159.27,857.70 1164.66,788.40 1170.05,761.50 1175.45,753.20 1180.84,744.90 1186.23,659.80 1191.62,763.40 1197.02,692.50 1202.41,634.00 1207.80,747.30 1213.20,628.40 1218.59,782.80 1223.98,823.80 1229.37,714.60 1234.76,725.80 1240.16,739.60 1245.55,717.20 1250.94,693.90 1256.34,731.00 1261.73,751.70 1267.12,733.60 1272.51,860.50 1277.90,680.90 1283.30,700.80 1288.69,850.10 1294.08,737.00 1299.47,815.60 1304.87,739.60 1310.26,743.90 1315.65,790.50 1321.05,787.90 1326.44,771.50 1331.83,825.90 1337.22,723.20 1342.62,820.70 1348.01,705.90 1348.01,744.90 1342.62,859.70 1337.22,762.20 1331.83,864.90 1326.44,810.50 1321.05,826.90 1315.65,829.50 1310.26,782.90 1304.87,778.60 1299.47,854.60 1294.08,776.00 1288.69,889.10 1283.30,739.80 1277.90,719.90 1272.51,899.50 1267.12,772.60 1261.73,790.70 1256.34,770.00 1250.94,732.90 1245.55,756.20 1240.16,778.60 1234.76,764.80 1229.37,753.60 1223.98,862.80 1218.59,821.80 1213.20,667.40 1207.80,786.30 1202.41,673.00 1197.02,731.50 1191.62,802.40 1186.23,698.80 1180.84,783.90 1175.45,792.20 1170.05,800.50 1164.66,827.40 1159.27,896.70 1153.88,723.80 1148.49,692.40 1143.09,766.30 1137.70,798.70 1132.31,756.20 1126.91,743.20 1121.52,802.40 1116.13,771.80 1110.74,760.70 1105.35,710.50 1099.95,828.30 1094.56,747.60 1089.17,727.70 1083.78,737.10 1078.38,849.50 1072.99,711.50" fill="#fa7c17" fill-opacity="0.25" stroke="#fa7c17" stroke-opacity="0.25" stroke-width="2" stroke-linejoin="round" />
<polyline points="1072.99,692.00 1078.38,830.00 1083.78,717.60 1089.17,708.20 1094.56,728.10 1099.95,808.80 1105.35,691.00 1110.74,741.20 1116.13,752.30 1121.52,782.90 1126.91,723.70 1132.31,736.70 1137.70,779.20 1143.09,746.80 1148.49,672.90 1153.88,704.30 1159.27,877.20 1164.66,807.90 1170.05,781.00 1175.45,772.70 1180.84,764.40 1186.23,679.30 1191.62,782.90 1197.02,712.00 1202.41,653.50 1207.80,766.80 1213.20,647.90 1218.59,802.30 1223.98,843.30 1229.37,734.10 1234.76,745.30 1240.16,759.10 1245.55,736.70 1250.94,713.40 1256.34,750.50 1261.73,771.20 1267.12,753.10 1272.51,880.00 1277.90,700.40 1283.30,720.30 1288.69,869.60 1294.08,756.50 1299.47,835.10 1304.87,759.10 1310.26,763.40 1315.65,810.00 1321.05,807.40 1326.44,791.00 1331.83,845.40 1337.22,742.70 1342.62,840.20 1348.01,725.40" fill="none" stroke="#fa7c17" stroke-width="4.2" stroke-linejoin="round" stroke-linecap="round"/>
<line x1="175.0" y1="857" x2="1403.0" y2="857" stroke="#000000" stroke-width="4"/>
<line x1="1071.95" y1="606.0" x2="1071.95" y2="1017.0" stroke="#ff0000" stroke-width="8.3"/>
</g>
<rect x="175.0" y="1084.0" width="1228.0" height="410.0" fill="#eeeeee"/>
<g clip-path="url(#c2)">
<line x1="227.00" y1="1084.0" x2="227.00" y2="1494.0" stroke="#ffffff" stroke-width="2.0"/>
<line x1="509.00" y1="1084.0" x2="509.00" y2="1494.0" stroke="#ffffff" stroke-width="2.0"/>
<line x1="790.00" y1="1084.0" x2="790.00" y2="1494.0" stroke="#ffffff" stroke-width="2.0"/>
<line x1="1072.00" y1="1084.0" x2="1072.00" y2="1494.0" stroke="#ffffff" stroke-width="2.0"/>
<line x1="1353.00" y1="1084.0" x2="1353.00" y2="1494.0" stroke="#ffffff" stroke-width="2.0"/>
<line x1="175.0" y1="1164.00" x2="1403.0" y2="1164.00" stroke="#ffffff" stroke-width="2.0"/>
<line x1="175.0" y1="1327.00" x2="1403.0" y2="1327.00" stroke="#ffffff" stroke-width="2.0"/>
<line x1="175.0" y1="1489.00" x2="1403.0" y2="1489.00" stroke="#ffffff" stroke-width="2.0"/>
<polygon points="1072.99,1475.22 1078.38,1472.13 1083.78,1461.27 1089.17,1449.84 1094.56,1439.90 1099.95,1435.73 1105.35,1423.26 1110.74,1414.38 1116.13,1406.31 1121.52,1400.43 1126.91,1390.38 1132.31,1381.27 1137.70,1375.19 1143.09,1366.82 1148.49,1353.24 1153.88,1341.89 1159.27,1342.80 1164.66,1338.81 1170.05,1332.93 1175.45,1326.47 1180.84,1319.43 1186.23,1306.36 1191.62,1300.65 1197.02,1289.91 1202.41,1275.04 1207.80,1268.20 1213.20,1252.95 1218.59,1248.64 1223.98,1247.24 1229.37,1238.11 1234.76,1229.77 1240.16,1222.42 1245.55,1213.49 1250.94,1202.91 1256.34,1194.96 1261.73,1188.48 1267.12,1180.73 1272.51,1181.97 1277.90,1170.48 1283.30,1160.41 1288.69,1160.93 1294.08,1153.43 1299.47,1151.51 1304.87,1144.20 1310.26,1137.20 1315.65,1133.50 1321.05,1129.63 1326.44,1124.59 1331.83,1123.42 1337.22,1114.96 1342.62,1113.42 1348.01,1103.75 1348.01,1161.69 1342.62,1170.61 1337.22,1171.39 1331.83,1179.08 1326.44,1179.49 1321.05,1183.75 1315.65,1186.85 1310.26,1189.76 1304.87,1195.97 1299.47,1202.48 1294.08,1203.60 1288.69,1210.29 1283.30,1208.96 1277.90,1218.21 1272.51,1228.86 1267.12,1226.79 1261.73,1233.70 1256.34,1239.33 1250.94,1246.42 1245.55,1256.13 1240.16,1264.19 1234.76,1270.66 1229.37,1278.10 1223.98,1286.33 1218.59,1286.81 1213.20,1290.20 1207.80,1304.52 1202.41,1310.41 1197.02,1324.32 1191.62,1334.08 1186.23,1338.81 1180.84,1350.87 1175.45,1356.90 1170.05,1362.33 1164.66,1367.16 1159.27,1370.07 1153.88,1368.07 1148.49,1378.30 1143.09,1390.75 1137.70,1397.95 1132.31,1402.83 1126.91,1410.72 1121.52,1419.50 1116.13,1424.07 1110.74,1430.78 1105.35,1438.26 1099.95,1449.25 1094.56,1451.86 1089.17,1460.13 1083.78,1469.74 1078.38,1478.57 1072.99,1479.26" fill="#fa7c17" fill-opacity="0.25" stroke="#fa7c17" stroke-opacity="0.25" stroke-width="2" stroke-linejoin="round" />
<polyline points="1072.99,1477.24 1078.38,1475.35 1083.78,1465.50 1089.17,1454.99 1094.56,1445.88 1099.95,1442.49 1105.35,1430.76 1110.74,1422.58 1116.13,1415.19 1121.52,1409.97 1126.91,1400.55 1132.31,1392.05 1137.70,1386.57 1143.09,1378.79 1148.49,1365.77 1153.88,1354.98 1159.27,1356.44 1164.66,1352.99 1170.05,1347.63 1175.45,1341.68 1180.84,1335.15 1186.23,1322.59 1191.62,1317.36 1197.02,1307.12 1202.41,1292.72 1207.80,1286.36 1213.20,1271.57 1218.59,1267.72 1223.98,1266.78 1229.37,1258.10 1234.76,1250.21 1240.16,1243.31 1245.55,1234.81 1250.94,1224.66 1256.34,1217.14 1261.73,1211.09 1267.12,1203.76 1272.51,1205.42 1277.90,1194.35 1283.30,1184.69 1288.69,1185.61 1294.08,1178.52 1299.47,1176.99 1304.87,1170.08 1310.26,1163.48 1315.65,1160.18 1321.05,1156.69 1326.44,1152.04 1331.83,1151.25 1337.22,1143.18 1342.62,1142.01 1348.01,1132.72" fill="none" stroke="#fa7c17" stroke-width="4.2" stroke-linejoin="round" stroke-linecap="round"/>
<line x1="175.0" y1="1489" x2="1403.0" y2="1489" stroke="#000000" stroke-width="4"/>
<line x1="1071.95" y1="1084.0" x2="1071.95" y2="1494.0" stroke="#ff0000" stroke-width="8.3"/>
</g>
<rect x="205.50" y="161.60" width="66.90" height="23.80" fill="#2a2eec" fill-opacity="0.25" stroke="#2a2eec" stroke-opacity="0.25" stroke-width="2.8"/>
<line x1="205.3" y1="172.9" x2="271.7" y2="172.9" stroke="#2a2eec" stroke-width="4.1" stroke-linecap="round"/>
<circle cx="239.5" cy="223.5" r="5.5" fill="#000"/>
<rect x="205.50" y="261.50" width="66.90" height="22.80" fill="#fa7c17" fill-opacity="0.25" stroke="#fa7c17" stroke-opacity="0.25" stroke-width="2.8"/>
<line x1="205.3" y1="272.0" x2="271.7" y2="272.0" stroke="#fa7c17" stroke-width="4.1" stroke-linecap="round"/>
<rect x="205.50" y="310.50" width="66.90" height="23.80" fill="#2a2eec" fill-opacity="0.25" stroke="#2a2eec" stroke-opacity="0.25" stroke-width="2.8"/>
<text x="541.50" y="46.70" font-size="36.6" fill="#262626" stroke="#262626" stroke-width="0.4" textLength="338.00" lengthAdjust="spacingAndGlyphs" >Causal impact for t4</text>
<text x="251.50" y="111.00" font-size="48.0" fill="#262626" stroke="#262626" stroke-width="0.4" textLength="358.50" lengthAdjust="spacingAndGlyphs" >Pre-intervention</text>
<text x="625.50" y="111.00" font-size="48.0" fill="#262626" stroke="#262626" stroke-width="0.4" textLength="201.00" lengthAdjust="spacingAndGlyphs" >Bayesian</text>
<text x="841.00" y="111.00" font-size="48.0" fill="#262626" stroke="#262626" stroke-width="0.4" textLength="29.50" lengthAdjust="spacingAndGlyphs" font-style="italic">R</text>
<text x="874.00" y="93.19" font-size="31.7" fill="#262626" stroke="#262626" stroke-width="0.4" textLength="20.50" lengthAdjust="spacingAndGlyphs" >2</text>
<text x="896.00" y="111.00" font-size="48.0" fill="#262626" stroke="#262626" stroke-width="0.4" textLength="15.00" lengthAdjust="spacingAndGlyphs" >:</text>
<text x="926.50" y="111.00" font-size="48.0" fill="#262626" stroke="#262626" stroke-width="0.4" textLength="93.50" lengthAdjust="spacingAndGlyphs" >0.76</text>
<text x="1036.00" y="111.00" font-size="48.0" fill="#262626" stroke="#262626" stroke-width="0.4" textLength="86.00" lengthAdjust="spacingAndGlyphs" >(std</text>
<text x="1136.00" y="111.00" font-size="48.0" fill="#262626" stroke="#262626" stroke-width="0.4" textLength="35.00" lengthAdjust="spacingAndGlyphs" >=</text>
<text x="1186.00" y="111.00" font-size="48.0" fill="#262626" stroke="#262626" stroke-width="0.4" textLength="145.50" lengthAdjust="spacingAndGlyphs" >0.016)</text>
<text x="630.50" y="589.90" font-size="48.0" fill="#262626" stroke="#262626" stroke-width="0.4" textLength="317.00" lengthAdjust="spacingAndGlyphs" >Causal Impact</text>
<text x="496.50" y="1067.90" font-size="48.0" fill="#262626" stroke="#262626" stroke-width="0.4" textLength="583.50" lengthAdjust="spacingAndGlyphs" >Cumulative Causal Impact</text>
<text x="297.50" y="186.12" font-size="36.6" fill="#262626" stroke="#262626" stroke-width="0.2" textLength="387.00" lengthAdjust="spacingAndGlyphs" >Pre-intervention period</text>
<text x="298.50" y="236.12" font-size="36.6" fill="#262626" stroke="#262626" stroke-width="0.2" textLength="221.00" lengthAdjust="spacingAndGlyphs" >Observations</text>
<text x="298.50" y="286.12" font-size="36.6" fill="#262626" stroke="#262626" stroke-width="0.2" textLength="249.50" lengthAdjust="spacingAndGlyphs" >Counterfactual</text>
<text x="298.50" y="334.62" font-size="36.6" fill="#262626" stroke="#262626" stroke-width="0.2" textLength="237.50" lengthAdjust="spacingAndGlyphs" >Causal impact</text>
<text x="80.00" y="148.80" font-size="44.0" fill="#262626" textLength="84.00" lengthAdjust="spacingAndGlyphs" >2.75</text>
<text x="79.00" y="235.80" font-size="44.0" fill="#262626" textLength="86.50" lengthAdjust="spacingAndGlyphs" >2.50</text>
<text x="80.00" y="321.80" font-size="44.0" fill="#262626" textLength="84.00" lengthAdjust="spacingAndGlyphs" >2.25</text>
<text x="79.00" y="407.30" font-size="44.0" fill="#262626" textLength="86.50" lengthAdjust="spacingAndGlyphs" >2.00</text>
<text x="79.00" y="494.80" font-size="44.0" fill="#262626" textLength="84.50" lengthAdjust="spacingAndGlyphs" >1.75</text>
<text x="103.50" y="688.80" font-size="44.0" fill="#262626" textLength="60.50" lengthAdjust="spacingAndGlyphs" >0.4</text>
<text x="103.50" y="781.30" font-size="44.0" fill="#262626" textLength="61.50" lengthAdjust="spacingAndGlyphs" >0.2</text>
<text x="103.50" y="873.80" font-size="44.0" fill="#262626" textLength="61.50" lengthAdjust="spacingAndGlyphs" >0.0</text>
<text x="72.50" y="965.30" font-size="44.0" fill="#262626" textLength="91.00" lengthAdjust="spacingAndGlyphs" >−0.2</text>
<text x="116.00" y="1181.30" font-size="44.0" fill="#262626" textLength="48.50" lengthAdjust="spacingAndGlyphs" >10</text>
<text x="142.50" y="1344.80" font-size="44.0" fill="#262626" textLength="22.50" lengthAdjust="spacingAndGlyphs" >5</text>
<text x="141.50" y="1505.80" font-size="44.0" fill="#262626" textLength="24.00" lengthAdjust="spacingAndGlyphs" >0</text>
<text transform="translate(58.24,523.50) rotate(-90)" font-size="43.2" fill="#262626" textLength="372.50" lengthAdjust="spacingAndGlyphs" >Sales (thousands)</text>
<text transform="translate(51.24,999.00) rotate(-90)" font-size="43.2" fill="#262626" textLength="373.00" lengthAdjust="spacingAndGlyphs" >Sales (thousands)</text>
<text transform="translate(96.24,1476.50) rotate(-90)" font-size="43.2" fill="#262626" textLength="372.00" lengthAdjust="spacingAndGlyphs" >Sales (thousands)</text>
<text transform="translate(220.50,1503.00) rotate(90)" font-size="44.5" fill="#262626" textLength="97.00" lengthAdjust="spacingAndGlyphs" >2019</text>
<text transform="translate(501.50,1503.00) rotate(90)" font-size="44.5" fill="#262626" textLength="97.00" lengthAdjust="spacingAndGlyphs" >2020</text>
<text transform="translate(783.50,1503.00) rotate(90)" font-size="44.5" fill="#262626" textLength="97.00" lengthAdjust="spacingAndGlyphs" >2021</text>
<text transform="translate(1064.00,1503.50) rotate(90)" font-size="44.5" fill="#262626" textLength="96.00" lengthAdjust="spacingAndGlyphs" >2022</text>
<text transform="translate(1345.00,1503.50) rotate(90)" font-size="44.5" fill="#262626" textLength="96.50" lengthAdjust="spacingAndGlyphs" >2023</text>
</svg>
</body></html>
